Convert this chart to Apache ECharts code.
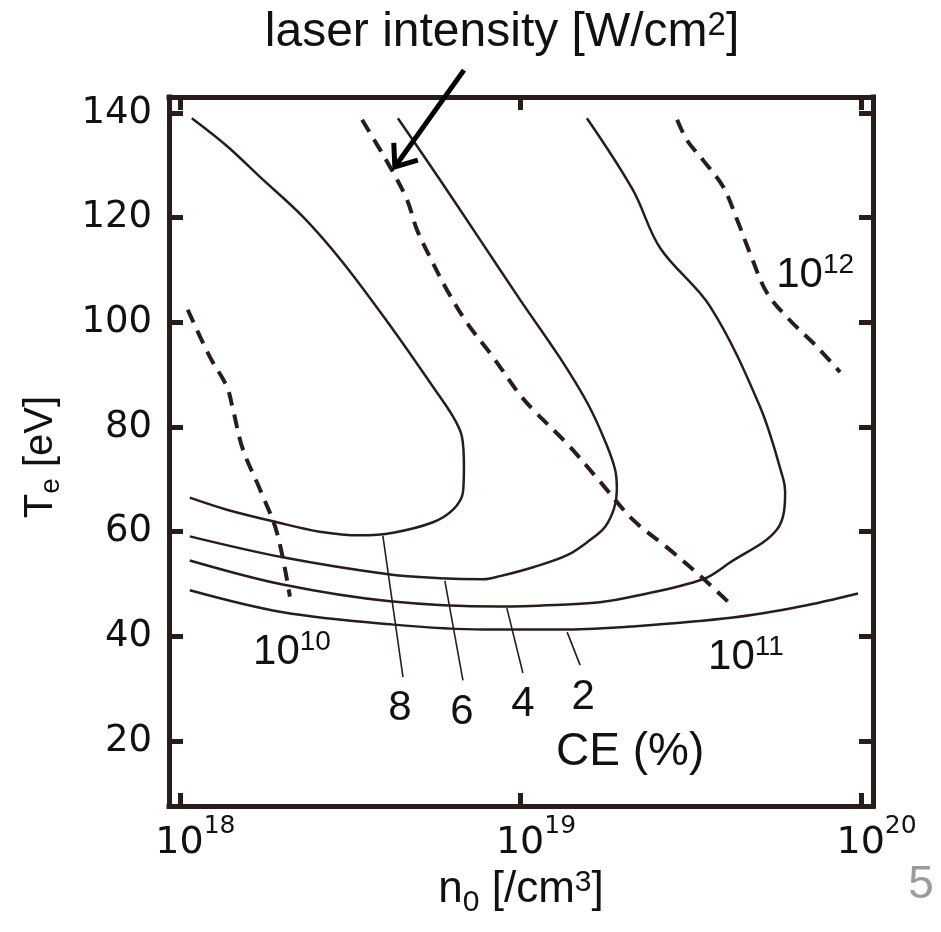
<!DOCTYPE html>
<html><head><meta charset="utf-8">
<script src="https://cdn.jsdelivr.net/npm/echarts@6/dist/echarts.min.js"></script>
<style>html,body{margin:0;padding:0;background:#fff}#c{width:941px;height:932px}</style>
</head><body><div id="c"></div>
<script>
// x values: log10(n0 [/cm^3]); y values: Te [eV]
const xTicks = [18, 19, 20];
const yTicks = [20, 40, 60, 80, 100, 120, 140];

// CE contours (solid)
const ce8N = [18.035, 18.138, 18.235, 18.361, 18.479, 18.626, 18.743, 18.802, 18.828, 18.834, 18.831, 18.802, 18.743, 18.626, 18.529, 18.411, 18.285, 18.138, 18.029];
const ce8T = [139.0, 133.7, 127.8, 120.2, 111.4, 98.6, 87.7, 82.0, 78.2, 72.4, 67.5, 64.2, 61.8, 59.8, 59.3, 60.0, 61.8, 64.2, 66.5];
const ce6N = [18.640, 18.764, 18.881, 18.999, 19.116, 19.198, 19.251, 19.278, 19.283, 19.275, 19.248, 19.204, 19.137, 19.037, 18.940, 18.890, 18.764, 18.617, 18.302, 18.029];
const ce6T = [139.0, 127.2, 115.8, 104.3, 93.2, 84.4, 76.9, 71.8, 68.0, 64.5, 60.9, 58.4, 55.5, 53.2, 51.5, 50.9, 51.1, 51.8, 55.1, 59.1];
const ce4N = [19.195, 19.330, 19.410, 19.557, 19.703, 19.771, 19.777, 19.753, 19.615, 19.536, 19.330, 19.233, 19.137, 18.940, 18.617, 18.302, 18.029];
const ce4T = [139.0, 125.3, 114.2, 103.0, 83.9, 70.2, 67.7, 60.4, 54.1, 50.9, 47.6, 46.5, 46.1, 45.7, 46.7, 49.9, 54.5];
const ce2N = [18.029, 18.302, 18.617, 18.890, 19.137, 19.330, 19.624, 19.821, 19.991];
const ce2T = [48.8, 44.6, 42.3, 41.3, 41.3, 41.9, 43.6, 45.7, 48.2];

// laser intensity contours (dashed)
const i10N = [18.023, 18.088, 18.138, 18.156, 18.185, 18.235, 18.285, 18.323];
const i10T = [102.4, 93.4, 87.7, 83.3, 75.7, 68.1, 59.8, 47.6];
const i11N = [18.535, 18.617, 18.667, 18.696, 18.734, 18.784, 18.843, 18.919, 18.993, 19.037, 19.137, 19.233, 19.330, 19.430, 19.527, 19.624];
const i11T = [138.7, 129.7, 123.4, 117.7, 112.5, 106.2, 99.9, 93.4, 86.6, 83.3, 76.8, 69.6, 62.3, 57.0, 51.6, 45.7];
const i12N = [19.460, 19.489, 19.536, 19.595, 19.636, 19.674, 19.724, 19.791, 19.871, 19.938];
const i12T = [138.7, 134.8, 131.0, 125.9, 119.6, 113.2, 105.6, 100.4, 95.3, 90.5];

// leader lines from CE contours to their labels
const lead8N = [18.596, 18.655], lead8T = [59.2, 32.2];
const lead6N = [18.778, 18.831], lead6T = [50.6, 31.6];
const lead4N = [18.960, 19.007], lead4T = [45.4, 33.0];
const lead2N = [19.137, 19.175], lead2T = [40.8, 34.5];

// annotation labels
const annBase = ['10', '8', '6', '4', '2', 'CE (%)', '10', '10'];
const annSup  = ['10', '', '', '', '', '', '11', '12'];
const annN = [18.329, 18.646, 18.828, 19.007, 19.184, 19.322, 19.662, 19.865];
const annT = [36.9, 26.3, 25.5, 26.9, 28.4, 17.9, 36.0, 108.9];

// arrow (laser intensity pointer): tail, tip
const arrowN = [18.834, 18.631];
const arrowT = [148.2, 129.7];

const ink = '#2b1c1c';
const txt = '#111111';
const sans = "'Liberation Sans', Arial, Helvetica, sans-serif";
const wide = "'DejaVu Sans', sans-serif";

const pairs = (a, b) => a.map((v, i) => [v, b[i]]);
function curve(name, N, T, dashed) {
  return {
    type: 'line', name, data: pairs(N, T), symbol: 'none', showSymbol: false,
    smooth: 0.35, silent: true, animation: false, z: dashed ? 3 : 2,
    lineStyle: { color: ink, width: dashed ? 4 : 2.5, type: dashed ? [14, 9] : 'solid', cap: 'butt' }
  };
}
function leader(N, T) {
  return { type: 'line', data: pairs(N, T), symbol: 'none', silent: true, animation: false,
    lineStyle: { color: ink, width: 1.6 } };
}

const axisLineStyle = { color: ink, width: 5, cap: 'square' };
const tickStyle = { color: ink, width: 5 };
const xMin = 17.968, xMax = 20.035, yMin = 7.58, yMax = 143.06;

const chart = echarts.init(document.getElementById('c'), null, { renderer: 'canvas' });
chart.setOption({
  animation: false,
  backgroundColor: '#ffffff',
  grid: { left: 169, top: 97, width: 704, height: 709, containLabel: false, outerBoundsMode: 'none' },
  xAxis: [
    { type: 'value', min: xMin, max: xMax, position: 'bottom',
      axisLine: { show: true, onZero: false, lineStyle: axisLineStyle },
      axisTick: { show: true, inside: true, length: 13, customValues: xTicks, lineStyle: tickStyle },
      axisLabel: { show: true, customValues: xTicks, margin: 8,
        formatter: v => '{b|10}{s|' + Math.round(v) + '}',
        rich: {
          b: { fontFamily: wide, fontSize: 38, lineHeight: 48, verticalAlign: 'bottom', color: txt, padding: [0, 0, 0, 31] },
          s: { fontFamily: wide, fontSize: 25, verticalAlign: 'top', color: txt }
        } },
      splitLine: { show: false } },
    { type: 'value', min: xMin, max: xMax, position: 'top',
      axisLine: { show: true, onZero: false, lineStyle: axisLineStyle },
      axisTick: { show: true, inside: true, length: 13, customValues: xTicks, lineStyle: tickStyle },
      axisLabel: { show: false }, splitLine: { show: false } }
  ],
  yAxis: [
    { type: 'value', min: yMin, max: yMax, position: 'left',
      axisLine: { show: true, onZero: false, lineStyle: axisLineStyle },
      axisTick: { show: true, inside: true, length: 14, customValues: yTicks, lineStyle: tickStyle },
      axisLabel: { show: true, customValues: yTicks, margin: 17, fontFamily: wide, fontSize: 37, color: txt },
      splitLine: { show: false } },
    { type: 'value', min: yMin, max: yMax, position: 'right',
      axisLine: { show: true, onZero: false, lineStyle: axisLineStyle },
      axisTick: { show: true, inside: true, length: 14, customValues: yTicks, lineStyle: tickStyle },
      axisLabel: { show: false }, splitLine: { show: false } }
  ],
  series: [
    curve('CE 8%', ce8N, ce8T, false),
    curve('CE 6%', ce6N, ce6T, false),
    curve('CE 4%', ce4N, ce4T, false),
    curve('CE 2%', ce2N, ce2T, false),
    curve('1e10 W/cm2', i10N, i10T, true),
    curve('1e11 W/cm2', i11N, i11T, true),
    curve('1e12 W/cm2', i12N, i12T, true),
    leader(lead8N, lead8T), leader(lead6N, lead6T), leader(lead4N, lead4T), leader(lead2N, lead2T),
    { type: 'scatter', silent: true, animation: false, symbolSize: 1, z: 5,
      itemStyle: { color: 'transparent', opacity: 1 },
      data: annN.map((v, i) => ({ value: [v, annT[i]], base: annBase[i], sup: annSup[i] })),
      label: { show: true, position: 'inside', color: txt, opacity: 1, textBorderWidth: 0,
        formatter: p => (p.data.base.length > 2 ? '{c|' : '{b|') + p.data.base + '}' + (p.data.sup ? '{s|' + p.data.sup + '}' : ''),
        rich: {
          b: { fontFamily: sans, fontSize: 42, lineHeight: 48, verticalAlign: 'middle', color: txt },
          c: { fontFamily: sans, fontSize: 46, lineHeight: 52, verticalAlign: 'middle', color: txt },
          s: { fontFamily: sans, fontSize: 28, verticalAlign: 'top', color: txt }
        } } }
  ]
});

// arrow + titles
const tail = chart.convertToPixel({ gridIndex: 0 }, [arrowN[0], arrowT[0]]);
const tip = chart.convertToPixel({ gridIndex: 0 }, [arrowN[1], arrowT[1]]);
const dx = tip[0] - tail[0], dy = tip[1] - tail[1];
const len = Math.hypot(dx, dy), ux = dx / len, uy = dy / len;
const headLen = 24, ang = 38 * Math.PI / 180;
function rot(x, y, a) { return [x * Math.cos(a) - y * Math.sin(a), x * Math.sin(a) + y * Math.cos(a)]; }
const w1 = rot(-ux, -uy, ang), w2 = rot(-ux, -uy, -ang);

chart.setOption({
  graphic: [
    { type: 'line', z: 100, silent: true,
      shape: { x1: tail[0], y1: tail[1], x2: tip[0] - ux * 2, y2: tip[1] - uy * 2 },
      style: { stroke: '#000', lineWidth: 5 } },
    { type: 'polyline', z: 100, silent: true,
      shape: { points: [[tip[0] + w1[0] * headLen, tip[1] + w1[1] * headLen], tip, [tip[0] + w2[0] * headLen, tip[1] + w2[1] * headLen]] },
      style: { stroke: '#000', lineWidth: 5, fill: null, lineJoin: 'miter' } },
    { type: 'text', x: 502, y: 9, silent: true,
      style: { text: '{b|laser intensity [W/cm}{s|2}{b|]}', align: 'center', verticalAlign: 'top',
        rich: {
          b: { fontFamily: sans, fontSize: 48, lineHeight: 48, verticalAlign: 'top', fill: txt },
          s: { fontFamily: sans, fontSize: 33, verticalAlign: 'top', fill: txt }
        } } },
    { type: 'text', x: 521, y: 868, silent: true,
      style: { text: '{b|n}{d|0}{b| [/cm}{s|3}{b|]}', align: 'center', verticalAlign: 'top',
        rich: {
          b: { fontFamily: sans, fontSize: 44, lineHeight: 50, verticalAlign: 'top', fill: txt },
          d: { fontFamily: sans, fontSize: 30, lineHeight: 50, verticalAlign: 'bottom', fill: txt },
          s: { fontFamily: sans, fontSize: 30, verticalAlign: 'top', fill: txt }
        } } },
    { type: 'text', x: 21, y: 457, rotation: Math.PI / 2, silent: true,
      style: { text: '{b|T}{d|e}{b| [eV]}', align: 'center', verticalAlign: 'top',
        rich: {
          b: { fontFamily: sans, fontSize: 40, lineHeight: 44, verticalAlign: 'top', fill: txt },
          d: { fontFamily: sans, fontSize: 28, lineHeight: 44, verticalAlign: 'bottom', fill: txt }
        } } },
    { type: 'text', x: 921, y: 862, silent: true,
      style: { text: '5', align: 'center', verticalAlign: 'top', fontFamily: sans, fontSize: 46, fill: '#9b9b9b' } }
  ]
});
</script>
</body></html>
